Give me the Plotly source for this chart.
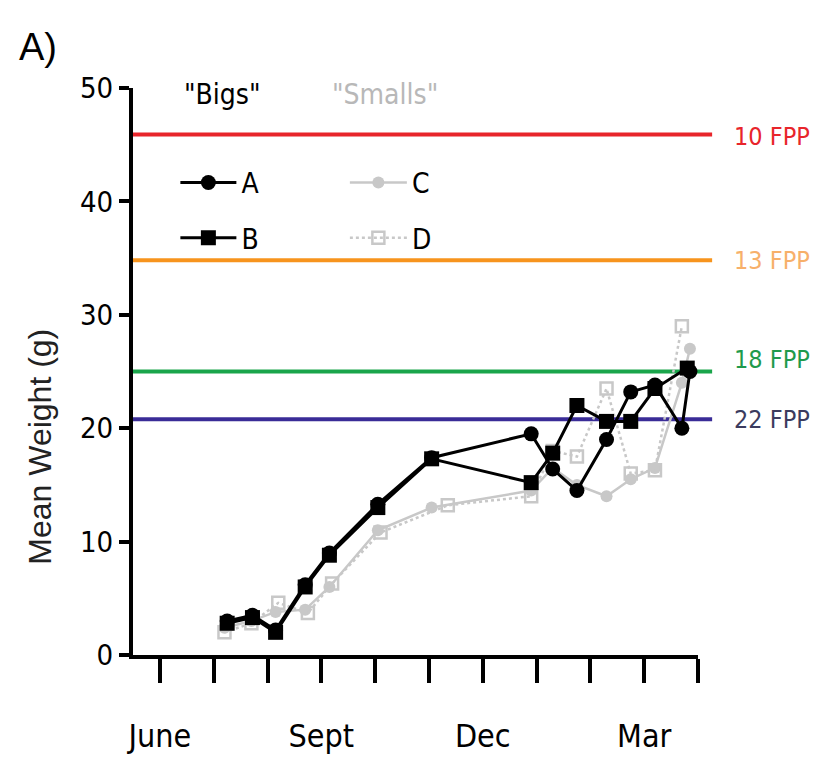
import plotly.graph_objects as go

# ---- data (x in months since June: 0=June ... 10=April) ----
month_ticks = [0, 1, 2, 3, 4, 5, 6, 7, 8, 9, 10]
month_labels = ["June", "", "", "Sept", "", "", "Dec", "", "", "Mar", ""]

a_x = [1.25, 1.72, 2.15, 2.7, 3.15, 4.05, 5.05, 6.9, 7.3, 7.75, 8.3, 8.75, 9.2, 9.7, 9.85]
a_y = [3.0, 3.5, 2.2, 6.2, 9.0, 13.3, 17.4, 19.5, 16.4, 14.5, 19.0, 23.2, 23.8, 20.0, 25.0]

b_x = [1.25, 1.72, 2.15, 2.7, 3.15, 4.05, 5.05, 6.9, 7.3, 7.75, 8.3, 8.75, 9.2, 9.8]
b_y = [2.8, 3.3, 2.0, 6.0, 8.8, 13.0, 17.3, 15.2, 17.8, 22.0, 20.6, 20.6, 23.5, 25.3]

c_x = [1.2, 1.7, 2.15, 2.7, 3.15, 4.05, 5.05, 6.9, 7.3, 7.75, 8.3, 8.75, 9.2, 9.7, 9.85]
c_y = [2.4, 3.0, 3.8, 4.0, 6.0, 11.0, 13.0, 14.5, 16.5, 15.0, 14.0, 15.5, 16.5, 24.0, 27.0]

d_x = [1.2, 1.7, 2.2, 2.75, 3.2, 4.1, 5.35, 6.9, 7.3, 7.75, 8.3, 8.75, 9.2, 9.7]
d_y = [2.0, 2.8, 4.6, 3.7, 6.3, 10.8, 13.2, 14.0, 18.0, 17.5, 23.5, 16.0, 16.3, 29.0]

fpp_labels = ["10 FPP", "13 FPP", "18 FPP", "22 FPP"]
fpp_values = [45.9, 34.8, 25.0, 20.8]
fpp_colors = ["#e8252b", "#f7941d", "#1aa54b", "#3a2c97"]
fpp_text_colors = ["#e8252b", "#f7b06a", "#1f9a4c", "#3b3b5e"]
fpp_label_shift = [-2, 0, 12, 0]

group_titles = ['"Bigs"', '"Smalls"']
group_title_colors = ["black", "#b8b8b8"]

FONT = "DejaVu Sans Condensed, Liberation Sans Narrow, Liberation Sans, sans-serif"
GRAY = "#c8c8c8"

fig = go.Figure()

fig.add_trace(go.Scatter(
    x=c_x, y=c_y, mode="lines+markers", name="C",
    line=dict(color=GRAY, width=2.5),
    marker=dict(symbol="circle", size=12, color=GRAY),
    legend="legend2", legendgroup="c"))
fig.add_trace(go.Scatter(
    x=d_x, y=d_y, mode="lines+markers", name="D",
    line=dict(color=GRAY, width=2.5, dash="dot"),
    marker=dict(symbol="square-open", size=12, color=GRAY, line=dict(width=2.5)),
    legend="legend2", legendgroup="d"))
fig.add_trace(go.Scatter(
    x=a_x, y=a_y, mode="lines+markers", name="A",
    line=dict(color="black", width=3),
    marker=dict(symbol="circle", size=15, color="black"),
    legend="legend", legendgroup="a"))
fig.add_trace(go.Scatter(
    x=b_x, y=b_y, mode="lines+markers", name="B",
    line=dict(color="black", width=3),
    marker=dict(symbol="square", size=15, color="black"),
    legend="legend", legendgroup="b"))

for lab, val, col, tcol, ys in zip(fpp_labels, fpp_values, fpp_colors, fpp_text_colors, fpp_label_shift):
    fig.add_shape(type="line", xref="paper", yref="y", x0=0, x1=1.025, y0=val, y1=val,
                  line=dict(color=col, width=4), layer="below")
    fig.add_annotation(xref="paper", yref="y", x=1.06, y=val, text=lab, showarrow=False,
                       xanchor="left", yanchor="middle", yshift=ys,
                       font=dict(family=FONT, size=25, color=tcol))

for txt, col, xp in zip(group_titles, group_title_colors, [0.087, 0.349]):
    fig.add_annotation(xref="paper", yref="paper", x=xp, y=0.988, text=txt, showarrow=False,
                       xanchor="left", yanchor="middle",
                       font=dict(family=FONT, size=28, color=col))

fig.add_annotation(xref="paper", yref="paper", x=-0.205, y=1.073, text="A)", showarrow=False,
                   xanchor="left", yanchor="middle",
                   font=dict(family="Liberation Sans, sans-serif", size=38, color="black"))

fig.add_annotation(xref="paper", yref="paper", x=-0.165, y=0.367, text="Mean Weight (g)",
                   textangle=-90, showarrow=False, xanchor="center", yanchor="middle",
                   font=dict(family="Liberation Sans, sans-serif", size=32, color="#222"))

fig.update_layout(
    width=821, height=753,
    margin=dict(l=125, r=131, t=80, b=106),
    plot_bgcolor="white", paper_bgcolor="white",
    font=dict(family=FONT, color="black"),
    legend=dict(
        x=0.075, y=0.877, xanchor="left", yanchor="top",
        font=dict(family=FONT, size=28, color="black"),
        tracegroupgap=16, bgcolor="rgba(0,0,0,0)", itemwidth=56),
    legend2=dict(
        x=0.375, y=0.877, xanchor="left", yanchor="top",
        font=dict(family=FONT, size=28, color="black"),
        tracegroupgap=16, bgcolor="rgba(0,0,0,0)", itemwidth=57),
    xaxis=dict(
        range=[-0.5, 10], tickmode="array", tickvals=month_ticks, ticktext=month_labels,
        showline=True, linecolor="black", linewidth=4, ticks="outside", ticklen=24,
        tickwidth=3.5, tickcolor="black", showgrid=False, zeroline=False, tickangle=0,
        automargin=False,
        tickfont=dict(family=FONT, size=32, color="black"), ticklabelstandoff=26),
    yaxis=dict(
        range=[0, 50], tickvals=[0, 10, 20, 30, 40, 50],
        showline=True, linecolor="black", linewidth=4, ticks="outside", ticklen=10,
        tickwidth=3.5, tickcolor="black", showgrid=False, zeroline=False,
        automargin=False,
        tickfont=dict(family=FONT, size=29, color="black")),
)

fig.write_html("out.html")
